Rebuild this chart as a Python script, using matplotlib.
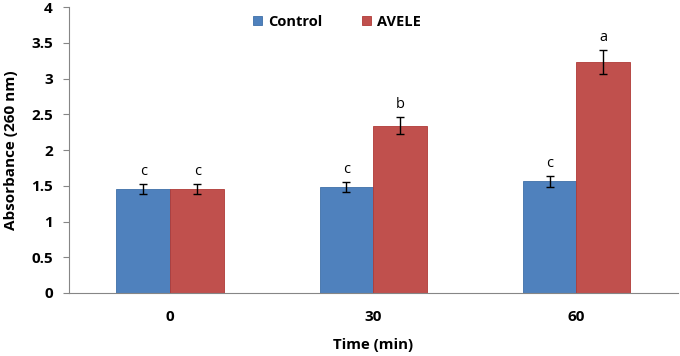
import matplotlib
matplotlib.use("Agg")
import matplotlib.pyplot as plt
import numpy as np

plt.rcParams['font.family'] = ['Open Sans', 'DejaVu Sans']

times = ["0", "30", "60"]
control = [1.45, 1.48, 1.56]
control_err = [0.07, 0.07, 0.07]
avele = [1.46, 2.34, 3.23]
avele_err = [0.07, 0.12, 0.17]
control_letters = ["c", "c", "c"]
avele_letters = ["c", "b", "a"]

blue = "#4F81BD"
red = "#C0504D"

fig = plt.figure(figsize=(6.8, 3.56), dpi=100)
ax = fig.add_axes([0.101, 0.177, 0.896, 0.803])

x = np.arange(len(times))
w = 0.265
ax.bar(x - w / 2, control, w, color=blue, edgecolor="#3F6FA8", linewidth=0.6, label="Control")
ax.bar(x + w / 2, avele, w, color=red, edgecolor="#B03A37", linewidth=0.6, label="AVELE")
ax.errorbar(x - w / 2, control, yerr=control_err, fmt="none", ecolor="black", elinewidth=1, capsize=3, capthick=1)
ax.errorbar(x + w / 2, avele, yerr=avele_err, fmt="none", ecolor="black", elinewidth=1, capsize=3, capthick=1)

for i in range(len(times)):
    ax.text(x[i] - w / 2, control[i] + control_err[i] + 0.07, control_letters[i],
            ha="center", va="bottom", fontsize=10.5)
    ax.text(x[i] + w / 2, avele[i] + avele_err[i] + 0.07, avele_letters[i],
            ha="center", va="bottom", fontsize=10.5)

ax.set_xlim(-0.5, 2.5)
ax.set_ylim(0, 4)
ax.set_yticks(np.arange(0, 4.01, 0.5))
ax.set_yticklabels(["0", "0.5", "1", "1.5", "2", "2.5", "3", "3.5", "4"], fontweight="bold", fontsize=11)
ax.set_xticks(x)
ax.set_xticklabels(times, fontweight="bold", fontsize=11)
ax.tick_params(axis="x", length=0, pad=12)
ax.tick_params(axis="y", length=4.5, color="#868686", direction="out", pad=7)

for s in ["top", "right"]:
    ax.spines[s].set_visible(False)
ax.spines["left"].set_color("#868686")
ax.spines["bottom"].set_color("#868686")

ax.set_ylabel("Absorbance (260 nm)", fontweight="bold", fontsize=11, labelpad=9)
ax.set_xlabel("Time (min)", fontweight="bold", fontsize=10.8, labelpad=10)

ax.legend(loc="upper center", bbox_to_anchor=(0.44, 1.02), ncol=2, frameon=False,
          prop={"weight": "bold", "size": 10.5}, handlelength=0.62, handleheight=0.62,
          columnspacing=2.7, handletextpad=0.4)

fig.savefig("out.png", dpi=100)
